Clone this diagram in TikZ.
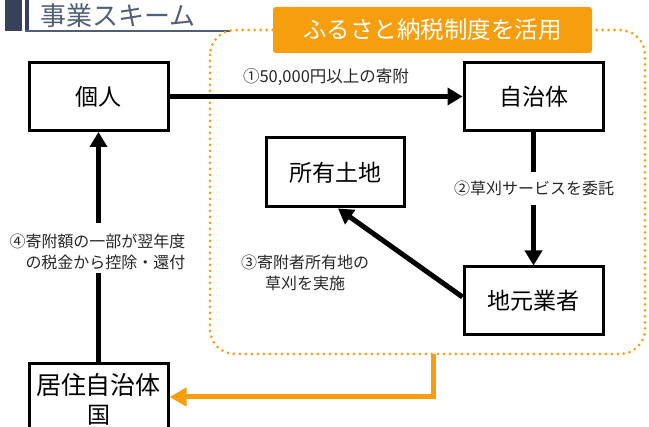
\documentclass[tikz,border=0pt]{standalone}
\usepackage{fontspec}
\setmainfont{Noto Sans CJK JP}
\usetikzlibrary{arrows.meta}
\definecolor{orng}{RGB}{246,158,14}
\definecolor{ttl}{RGB}{80,94,120}
\definecolor{barc}{RGB}{55,66,90}
\begin{document}
\begin{tikzpicture}[x=1pt,y=-1pt,
  box/.style={draw=black,line width=3pt,fill=white,minimum width=139pt,minimum height=68pt,inner sep=0pt,font=\fontsize{23}{27}\selectfont},
  lbl/.style={font=\fontsize{16}{21}\selectfont,inner sep=0pt,text=black!85},
  conn/.style={line width=5pt},
  arr/.style={line width=5pt,-{Triangle[length=15pt,width=17pt]}},
  oarr/.style={draw=orng,line width=5pt,-{Triangle[length=17pt,width=18pt]}},
  dotframe/.style={draw=orng,line width=3pt,dash pattern=on 0pt off 6pt,line cap=round,rounded corners=25pt}]
\useasboundingbox (0,0) rectangle (649,427);
\clip (0,0) rectangle (649,427);
% title
\fill[barc] (5,0) rectangle (22,31);
\fill[barc] (25,0) rectangle (29,31);
\draw[ttl,line width=1.5pt] (25,31) -- (230,31);
\node[text=ttl,font=\fontsize{26}{30}\selectfont,inner sep=0pt] (title) at (118,16) {事業スキーム};
% dotted frame
\draw[dotframe] (210,30) rectangle (645,354);
\node[fill=orng,rounded corners=3pt,minimum width=319pt,minimum height=46pt,inner sep=0pt,text=white,font=\fontsize{23.5}{27}\selectfont] (furu) at (432.5,30) {ふるさと納税制度を活用};
% boxes
\node[box] (kojin) at (98.5,96.5) {個人};
\node[box] (jichi) at (533.5,96.5) {自治体};
\node[box,minimum width=138pt,minimum height=69pt] (shoyu) at (335,172.5) {所有土地};
\node[box] (chimoto) at (533.5,301) {地元業者};
\node[box,minimum height=80pt,anchor=north] (jyu) at (98.5,362) {};
\node[font=\fontsize{25}{30}\selectfont,inner sep=0pt] (jyu1) at (98.5,385) {居住自治体};
\node[font=\fontsize{23}{27}\selectfont,inner sep=0pt] (jyu2) at (98.5,415) {国};
% labels
\node[lbl,font=\fontsize{16.5}{21}\selectfont] (l1) at (326,77) {①50,000円以上の寄附};
\node[lbl] (l2) at (534,188) {②草刈サービスを委託};
\node[lbl,align=center] (l3) at (305,273) {③寄附者所有地の\\草刈を実施};
\node[lbl,align=right] (l4) at (97.5,251.5) {④寄附額の一部が翌年度\\の税金から控除・還付};
% connectors
\coordinate (g2a) at (533.5,172);
\coordinate (g2b) at (533.5,205);
\coordinate (g4a) at (98.5,273);
\coordinate (g4b) at (98.5,223);
\coordinate (o1) at (433,354);
\coordinate (o2) at (433,397);
\draw[arr] (kojin.east) -- (jichi.west);
\draw[conn] (jichi.south) -- (g2a);
\draw[arr] (g2b) -- (chimoto.north);
\draw[arr] ([yshift=4pt]chimoto.west) -- ([xshift=3pt]shoyu.south);
\draw[conn] (jyu.north) -- (g4a);
\draw[arr] (g4b) -- (kojin.south);
\draw[oarr] (o1) -- (o2) -- (o2 -| jyu.east);
\end{tikzpicture}
\end{document}
